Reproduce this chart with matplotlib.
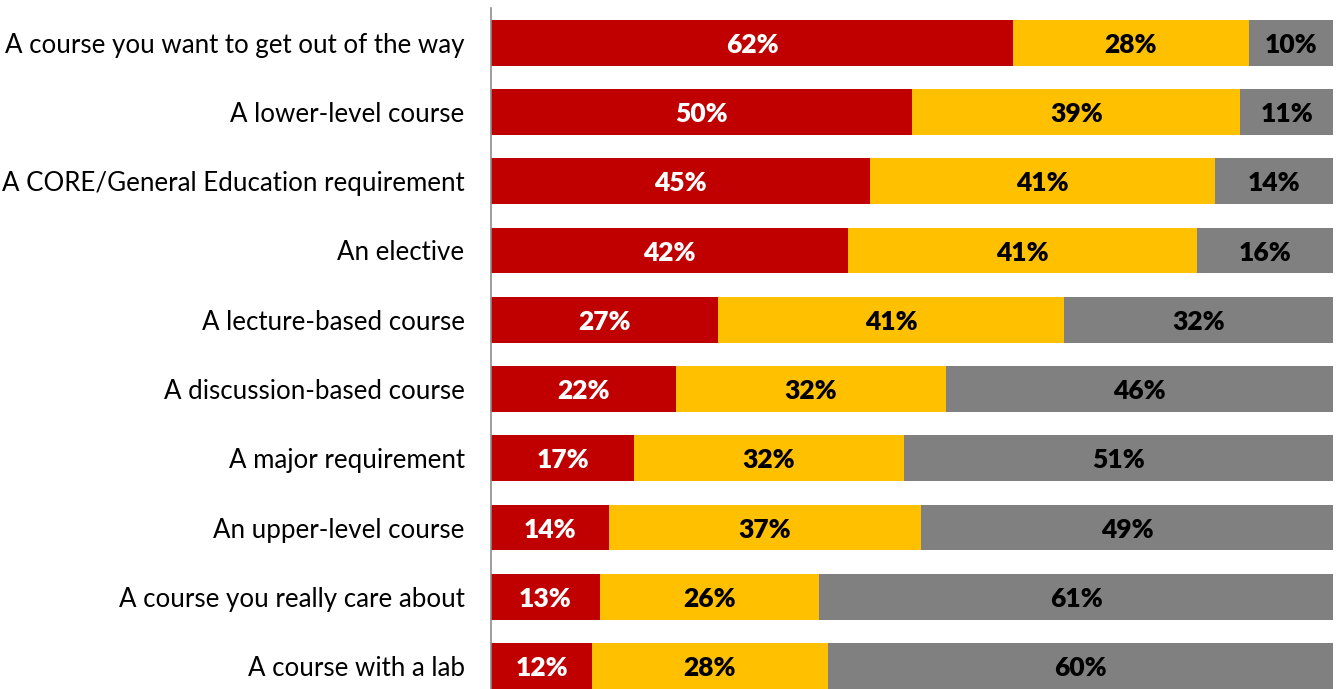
import matplotlib
matplotlib.use("Agg")
import matplotlib.pyplot as plt
import numpy as np

categories = [
    "A course you want to get out of the way",
    "A lower-level course",
    "A CORE/General Education requirement",
    "An elective",
    "A lecture-based course",
    "A discussion-based course",
    "A major requirement",
    "An upper-level course",
    "A course you really care about",
    "A course with a lab",
]
red_vals = [62.0, 50.0, 45.0, 42.4, 27.0, 22.0, 17.0, 14.0, 12.9, 12.0]
yellow_vals = [28.0, 39.0, 41.0, 41.4, 41.1, 32.0, 32.0, 37.1, 26.1, 28.0]
gray_vals = [10.0, 11.0, 14.0, 16.2, 31.9, 46.0, 51.0, 48.9, 61.0, 60.0]

colors = ["#C00000", "#FFC000", "#808080"]
text_colors = ["white", "black", "black"]

plt.rcParams['font.family'] = ['Lato', 'DejaVu Sans']

fig = plt.figure(figsize=(13.39, 6.89), dpi=100)
ax = fig.add_axes([491/1339, 0.0, (1333-491)/1339, 1 - 8/689])

y = np.arange(len(categories))
left = np.zeros(len(categories))
for vals, c, tc in zip([red_vals, yellow_vals, gray_vals], colors, text_colors):
    vals = np.array(vals)
    ax.barh(y, vals, left=left, height=0.66, color=c, edgecolor='none')
    for yi, l, v in zip(y, left, vals):
        ax.text(l + v / 2, yi + 0.03, f"{round(v):.0f}%", ha='center', va='center',
                color=tc, fontsize=19, fontweight='heavy')
    left = left + vals

ax.set_xlim(0, 100)
ax.set_ylim(9.33, -0.5)
ax.set_yticks(y)
ax.set_yticklabels(categories, fontsize=18.6)
ax.tick_params(axis='y', length=0, pad=19)
ax.set_xticks([])
for s in ['top', 'right', 'bottom']:
    ax.spines[s].set_visible(False)
ax.spines['left'].set_color('#8c8c8c')
ax.spines['left'].set_linewidth(1.2)

fig.savefig("out.png", dpi=100)
